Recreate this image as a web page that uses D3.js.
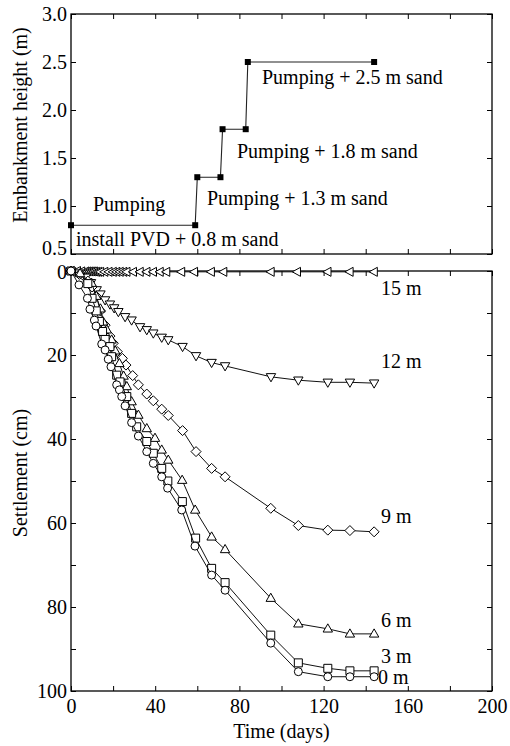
<!DOCTYPE html>
<html><head><meta charset="utf-8">
<script src="https://cdn.jsdelivr.net/npm/d3@7"></script>
<style>
html,body{margin:0;padding:0;background:#fff;}
</style></head>
<body><svg id="c" width="510" height="746"></svg>
<script>
// ---------- DATA ----------
// Top panel: embankment loading history (days, height m)
const loadDays   = [0, 59, 60, 71, 72, 83, 84, 144];
const loadHeight = [0.8, 0.8, 1.3, 1.3, 1.8, 1.8, 2.5, 2.5];
const stageLabels = ["Pumping", "install PVD + 0.8 m sand", "Pumping + 1.3 m sand", "Pumping + 1.8 m sand", "Pumping + 2.5 m sand"];

// Bottom panel: settlement (cm) at depths
const depthNames = ["15 m", "12 m", "9 m", "6 m", "3 m", "0 m"];
const t15 = [0,3,5,7,8,9,10,11,12,13,14,16,18,20,21.7,23.3,25,26.5,29.6,32.8,36,39.1,42.3,45.4,52.5,58.6,66.6,72.5,95,107.5,122,132.5,144];
const s15 = [0,0,0.1,0.1,0.1,0.1,0.1,0.1,0.2,0.2,0.2,0.2,0.2,0.2,0.2,0.2,0.2,0.2,0.2,0.2,0.2,0.2,0.2,0.2,0.2,0.2,0.2,0.2,0.2,0.2,0.2,0.2,0.2];
const t12 = [0,3.5,7,9.5,12.2,14,16.2,18.5,20.5,22.5,25.7,28.8,32.8,36,39.1,43.1,46.2,53,59.4,66.8,73.2,95,108,122,132.5,144];
const s12 = [0,0.5,1.5,2.8,4.5,5.5,6.9,7.9,8.8,9.7,10.9,11.7,13.3,14.0,14.8,15.8,16.4,18.0,20.2,21.8,22.6,25.2,26.0,26.5,26.5,26.7];
const t9  = [0,4,8,10,12,14,16.2,18.5,20.1,22,24.4,26.1,29.3,32,36,39.1,43.1,46.2,53,59.4,66.8,73.2,94.9,108,122,132.5,144];
const s9  = [0,0.8,2.4,3.8,6,9.5,12.9,15.5,17.2,19.2,20.8,22.4,24.9,27.1,29.3,30.9,32.9,34.4,38.0,43.0,47.0,49.0,56.5,60.6,61.7,61.8,62.1];
const t6  = [0,4.3,9.8,12,14,15.3,17,19.3,21,23,25,26.5,28.8,32,36,39.9,43.1,46.2,52.8,59,66.8,73.2,94.9,108,122,132.5,144];
const s6  = [0,0.6,2.9,6,9,12.1,14,16.4,19,22,25,27.5,31.1,34.3,37.5,39.8,42.6,45.0,49.8,56.9,63.3,66.3,77.9,84.0,85.2,86.4,86.4];
const t3  = [0,8,10,12,13.5,15,16.2,18.5,19.3,21.7,23.3,26.5,28.8,31.2,36,39.1,43.1,46,52.9,59.2,66.8,73.2,94.9,108,122,132.5,144];
const s3  = [0,3.0,6.5,9.5,12,14.4,16.3,18.0,20.4,24.8,26.4,29.9,33.9,37.1,40.6,43.4,47.0,50.0,54.9,63.6,70.8,74.2,86.7,93.3,94.6,95.2,95.2];
const t0  = [0,3.8,7.8,9,11.1,11.9,14.6,16.2,17.7,19,21.7,23,24.1,25.7,28.8,32,36,39.1,43.1,45.9,52.6,58.9,66.8,73.2,94.9,108,122,132.5,144];
const s0  = [0,3.3,6.5,9.1,11.7,13.1,17.4,18.8,21.0,22.8,27.1,28.3,29.9,32.1,36.1,39.3,43.0,45.8,49.0,51.7,56.9,65.5,72.4,76.0,88.6,95.4,96.6,96.6,96.6];

const xTicks = [0,20,40,60,80,100,120,140,160,180,200];
const xLabels = [0,40,80,120,160,200];
const topTicks = [0.5,1.0,1.5,2.0,2.5,3.0];
const botTicks = [0,10,20,30,40,50,60,70,80,90,100];
const botLabels = [0,20,40,60,80,100];

// ---------- LAYOUT ----------
const FONT = '"Liberation Serif", "Times New Roman", Times, serif';
const svg = d3.select("#c");
const L = 71, R = 492;
const topT = 14, topB = 254, botT = 271, botB = 691;
const FS = 20;
const x = d3.scaleLinear().domain([0,200]).range([L,R]);
const yTop = d3.scaleLinear().domain([0.5,3.0]).range([topB,topT]);
const yBot = d3.scaleLinear().domain([0,100]).range([botT,botB]);

function styleAxis(g){
  g.select(".domain").remove();
  g.selectAll(".tick line").attr("stroke","#000").attr("stroke-width",1);
  g.selectAll("text").attr("fill","#000").style("font-family",FONT).style("font-size",FS+"px");
}
function txt(){
  return svg.append("text").style("font-family",FONT).style("font-size",FS+"px").attr("fill","#000");
}
const TK = 5;
// Top panel axes
svg.append("g").attr("transform",`translate(0,${topB})`)
  .call(d3.axisBottom(x).tickValues(xTicks).tickSize(-TK).tickFormat("")).call(styleAxis);
svg.append("g").attr("transform",`translate(0,${topT})`)
  .call(d3.axisTop(x).tickValues(xTicks).tickSize(-TK).tickFormat("")).call(styleAxis);
const topLeft = svg.append("g").attr("transform",`translate(${L},0)`)
  .call(d3.axisLeft(yTop).tickValues(topTicks).tickSize(-TK).tickPadding(4).tickFormat(d3.format(".1f"))).call(styleAxis);
// lift the lowest label so it clears the "0" of the lower panel (as in the original)
topLeft.selectAll(".tick text").filter(d => d === topTicks[0]).attr("y", -6);
svg.append("g").attr("transform",`translate(${R},0)`)
  .call(d3.axisRight(yTop).tickValues(topTicks).tickSize(-TK).tickFormat("")).call(styleAxis);
svg.append("rect").attr("x",L).attr("y",topT).attr("width",R-L).attr("height",topB-topT)
  .attr("fill","none").attr("stroke","#000").attr("stroke-width",1.3);

// Bottom panel axes
svg.append("g").attr("transform",`translate(0,${botB})`)
  .call(d3.axisBottom(x).tickValues(xTicks).tickSize(-TK).tickPadding(8)
    .tickFormat(d => xLabels.includes(d) ? d : "")).call(styleAxis);
svg.append("g").attr("transform",`translate(0,${botT})`)
  .call(d3.axisTop(x).tickValues(xTicks).tickSize(-TK).tickFormat("")).call(styleAxis);
const botLeft = svg.append("g").attr("transform",`translate(${L},0)`)
  .call(d3.axisLeft(yBot).tickValues(botTicks).tickSize(-TK).tickPadding(4)
    .tickFormat(d => botLabels.includes(d) ? d : "")).call(styleAxis);
botLeft.selectAll(".tick text").filter(d => d === botTicks[0]).attr("y", 1);
svg.append("g").attr("transform",`translate(${R},0)`)
  .call(d3.axisRight(yBot).tickValues(botTicks).tickSize(-TK).tickFormat("")).call(styleAxis);
svg.append("rect").attr("x",L).attr("y",botT).attr("width",R-L).attr("height",botB-botT)
  .attr("fill","none").attr("stroke","#000").attr("stroke-width",1.3);

// Axis titles
txt().attr("transform",`translate(27,125) rotate(-90)`).attr("text-anchor","middle").text("Embankment height (m)");
txt().attr("transform",`translate(27,473) rotate(-90)`).attr("text-anchor","middle").text("Settlement (cm)");
txt().attr("x",(L+R)/2).attr("y",738).attr("text-anchor","middle").text("Time (days)");

// ---------- TOP PANEL MARKS ----------
const loadPts = loadDays.map((d,i)=>[d,loadHeight[i]]);
svg.append("path").datum(loadPts)
  .attr("d", d3.line().x(d=>x(d[0])).y(d=>yTop(d[1])))
  .attr("fill","none").attr("stroke","#222").attr("stroke-width",1.1);
svg.selectAll(".lp").data(loadPts).enter().append("rect")
  .attr("x",d=>x(d[0])-3).attr("y",d=>yTop(d[1])-3).attr("width",6).attr("height",6).attr("fill","#000");

const stagePos = [[93,211],[76,246],[207,204.5],[237,157.7],[262,84]];
stageLabels.forEach((s,i)=>{
  txt().attr("x",stagePos[i][0]).attr("y",stagePos[i][1]).text(s);
});

// ---------- BOTTOM PANEL MARKS ----------
const shapes = {
  circle: "M4,0A4,4 0 1,1 -4,0A4,4 0 1,1 4,0Z",
  square: "M-4,-4H4V4H-4Z",
  up:     "M0,-5L4.7,3.2L-4.7,3.2Z",
  down:   "M0,5L4.7,-3.2L-4.7,-3.2Z",
  left:   "M-5,0L3.2,-4.5L3.2,4.5Z",
  diamond:"M0,-5L5,0L0,5L-5,0Z"
};
const series = [
  {name:depthNames[0], t:t15, s:s15, shape:"left",    lab:[381,295]},
  {name:depthNames[1], t:t12, s:s12, shape:"down",    lab:[381,368]},
  {name:depthNames[2], t:t9,  s:s9,  shape:"diamond", lab:[381,523]},
  {name:depthNames[3], t:t6,  s:s6,  shape:"up",      lab:[381,626.7]},
  {name:depthNames[4], t:t3,  s:s3,  shape:"square",  lab:[381,663]},
  {name:depthNames[5], t:t0,  s:s0,  shape:"circle",  lab:[378,684]}
];
const line = d3.line().x(d=>x(d[0])).y(d=>yBot(d[1]));
series.forEach(sr=>{
  const pts = sr.t.map((d,i)=>[d,sr.s[i]]);
  const g = svg.append("g");
  g.append("path").datum(pts).attr("d",line).attr("fill","none").attr("stroke","#111").attr("stroke-width",1);
  g.selectAll("path.m").data(pts).enter().append("path").attr("class","m")
    .attr("d",shapes[sr.shape])
    .attr("transform",d=>`translate(${x(d[0])},${yBot(d[1])})`)
    .attr("fill","#fff").attr("stroke","#000").attr("stroke-width",1);
});
series.forEach(sr=>{
  txt().attr("x",sr.lab[0]).attr("y",sr.lab[1]).text(sr.name);
});
</script></body></html>
